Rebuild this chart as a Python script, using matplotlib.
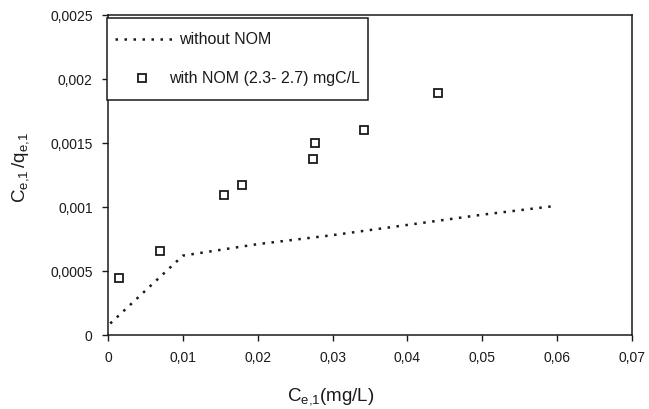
import matplotlib
matplotlib.use("Agg")
import matplotlib.pyplot as plt
from matplotlib.ticker import FixedLocator, FixedFormatter
from matplotlib.patches import Rectangle
from matplotlib.lines import Line2D

plt.rcParams['font.family'] = ['Liberation Sans', 'DejaVu Sans']
plt.rcParams['mathtext.fontset'] = 'custom'
plt.rcParams['mathtext.rm'] = 'Liberation Sans'

# Data
line_x = [0.0003, 0.01, 0.02, 0.03, 0.04, 0.05, 0.06]
line_y = [0.00009, 0.00062, 0.00071, 0.00078, 0.00086, 0.00094, 0.00101]

nom_x = [0.00147, 0.00696, 0.01545, 0.01794, 0.0274, 0.02763, 0.03414, 0.04414]
nom_y = [0.000444, 0.000658, 0.00109, 0.00117, 0.001374, 0.001502, 0.0016, 0.00189]

x_ticks = [0, 0.01, 0.02, 0.03, 0.04, 0.05, 0.06, 0.07]
x_labels = ['0', '0,01', '0,02', '0,03', '0,04', '0,05', '0,06', '0,07']
y_ticks = [0, 0.0005, 0.001, 0.0015, 0.002, 0.0025]
y_labels = ['0', '0,0005', '0,001', '0,0015', '0,002', '0,0025']
legend_labels = ['without NOM', 'with NOM (2.3- 2.7) mgC/L']

W, H = 649, 410
fig = plt.figure(figsize=(W / 100, H / 100), dpi=100)
x0, x1 = 108, 632
y0, y1 = 336, 16
ax = fig.add_axes([x0 / W, 1 - y0 / H, (x1 - x0) / W, (y0 - y1) / H])

C = '#1a1a1a'
line_style = dict(color=C, lw=1.8, linestyle=(0, (1, 2.6)))
mark_style = dict(linestyle='none', marker='s', ms=6.4, mfc='white',
                  mec=C, mew=1.3)

ax.plot(line_x, line_y, **line_style)
ax.plot(nom_x, nom_y, **mark_style)

ax.set_xlim(0, 0.07)
ax.set_ylim(0, 0.0025)
ax.xaxis.set_major_locator(FixedLocator(x_ticks))
ax.xaxis.set_major_formatter(FixedFormatter(x_labels))
ax.yaxis.set_major_locator(FixedLocator(y_ticks))
ax.yaxis.set_major_formatter(FixedFormatter(y_labels))
ax.tick_params(direction='out', length=4, width=1.0, labelsize=10,
               colors=C, pad=7)
for s in ax.spines.values():
    s.set_linewidth(1.1)
    s.set_color(C)

# Legend box (figure pixel coords -> figure fraction)
def fx(px):
    return px / W

def fy(py):
    return 1 - py / H

fig.patches.append(Rectangle((fx(107), fy(101)), fx(368) - fx(107),
                             fy(19) - fy(101), transform=fig.transFigure,
                             facecolor='white', edgecolor=C, lw=1.1,
                             zorder=5))
fig.lines.append(Line2D([fx(115), fx(172)], [fy(40), fy(40)],
                        transform=fig.transFigure, zorder=6, **line_style))
fig.lines.append(Line2D([fx(142)], [fy(79)], transform=fig.transFigure,
                        zorder=6, **mark_style))
fig.text(fx(179), fy(40), legend_labels[0], ha='left', va='center',
         fontsize=11.5, color=C, zorder=6)
fig.text(fx(169), fy(79), legend_labels[1], ha='left', va='center',
         fontsize=11.5, color=C, zorder=6)

fig.text(fx(331), fy(397), r'$\mathregular{C_{e{,}1}(mg/L)}$', ha='center',
         va='center', fontsize=13.5, color=C)
fig.text(fx(21), fy(167), r'$\mathregular{C_{e{,}1}\,/q_{e{,}1}}$', ha='center',
         va='center', rotation=90, fontsize=13.5, color=C)

fig.savefig('out.png', dpi=100)
